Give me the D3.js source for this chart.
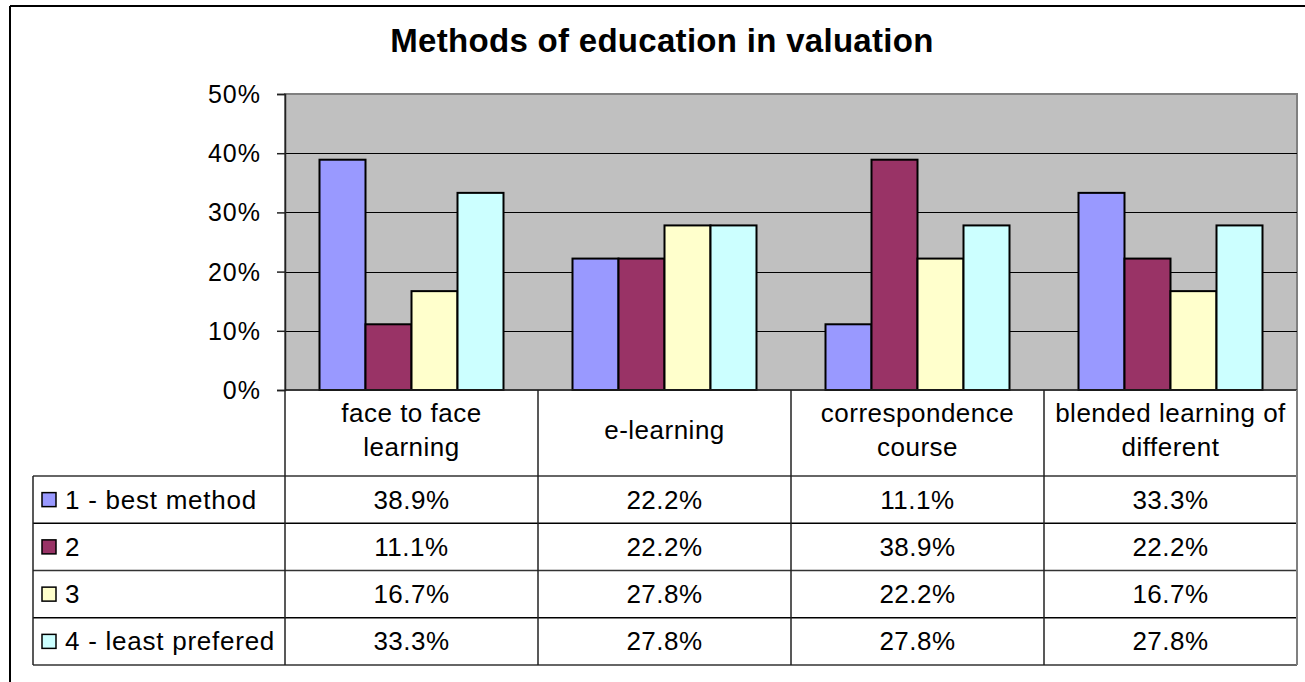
<!DOCTYPE html>
<html>
<head>
<meta charset="utf-8">
<script src="https://cdn.jsdelivr.net/npm/d3@7"></script>
<style>
  html, body { margin: 0; padding: 0; background: #fff; }
  svg { display: block; font-family: Arial, "Liberation Sans", sans-serif; }
</style>
</head>
<body>
<svg id="chart" width="1305" height="682"></svg>
<script>
// ---- data ----
const title = "Methods of education in valuation";
const categories = ["face to face learning", "e-learning", "correspondence course", "blended learning of different"];
const categoryLines = [["face to face", "learning"], ["e-learning"], ["correspondence", "course"], ["blended learning of", "different"]];
const seriesNames = ["1 - best method", "2", "3", "4 - least prefered"];
const seriesColors = ["#9999FF", "#993366", "#FFFFCC", "#CCFFFF"];
const best = [0.389, 0.222, 0.111, 0.333];
const second = [0.111, 0.222, 0.389, 0.222];
const third = [0.167, 0.278, 0.222, 0.167];
const least = [0.333, 0.278, 0.278, 0.278];
const seriesValues = [best, second, third, least];
const yTicks = [0, 0.1, 0.2, 0.3, 0.4, 0.5];

// ---- layout ----
const svg = d3.select("#chart");
const plotL = 285, plotR = 1297, plotT = 94, plotB = 390;
const tableL = 33, headerB = 476, rowH = 47.25;
const tableB = headerB + rowH * 4;

const x0 = d3.scaleBand().domain(categories).range([plotL, plotR]).padding(0);
const x1 = d3.scaleBand().domain(seriesNames).range([0, x0.bandwidth()]).paddingInner(0).paddingOuter(0.75);
const y = d3.scaleLinear().domain([0, 0.5]).range([plotB, plotT]);
const color = d3.scaleOrdinal().domain(seriesNames).range(seriesColors);
const pct1 = d3.format(".1%");

// outer frame (only top/left visible)
svg.append("line").attr("x1", 10).attr("x2", 1305).attr("y1", 6).attr("y2", 6).attr("stroke", "#000").attr("stroke-width", 2);
svg.append("line").attr("x1", 10).attr("x2", 10).attr("y1", 6).attr("y2", 682).attr("stroke", "#000").attr("stroke-width", 2);

// title
svg.append("text").attr("x", 662).attr("y", 52).attr("text-anchor", "middle")
  .attr("font-size", 33).attr("font-weight", "bold").attr("letter-spacing", 0.3).attr("fill", "#000")
  .text(title);

// plot area
svg.append("rect").attr("x", plotL).attr("y", plotT).attr("width", plotR - plotL).attr("height", plotB - plotT)
  .attr("fill", "#C0C0C0").attr("stroke", "#808080").attr("stroke-width", 2);

// gridlines
svg.append("g").selectAll("line").data(yTicks.filter(d => d > 0 && d < 0.5)).join("line")
  .attr("x1", plotL).attr("x2", plotR).attr("y1", d => Math.round(y(d)) + 0.5).attr("y2", d => Math.round(y(d)) + 0.5)
  .attr("stroke", "#000").attr("stroke-width", 1);

// y axis
const yAxis = d3.axisLeft(y).tickValues(yTicks).tickFormat(d3.format(".0%")).tickSize(8).tickPadding(16);
const gy = svg.append("g").attr("transform", `translate(${plotL},0)`).call(yAxis);
gy.select(".domain").attr("stroke", "#222").attr("stroke-width", 1.5);
gy.selectAll(".tick line").attr("stroke", "#222").attr("stroke-width", 1.5);
gy.selectAll(".tick text").attr("font-size", 25).attr("letter-spacing", 1).attr("fill", "#000")
  .attr("font-family", "Arial, 'Liberation Sans', sans-serif").attr("dy", "0.34em");

// bars
const rows = categories.map((c, i) => ({ cat: c, vals: seriesNames.map((s, j) => ({ s, v: seriesValues[j][i] })) }));
svg.append("g").selectAll("g").data(rows).join("g")
  .attr("transform", d => `translate(${x0(d.cat)},0)`)
  .selectAll("rect").data(d => d.vals).join("rect")
  .attr("x", d => x1(d.s)).attr("width", x1.bandwidth())
  .attr("y", d => y(d.v)).attr("height", d => y(0) - y(d.v))
  .attr("fill", d => color(d.s)).attr("stroke", "#000").attr("stroke-width", 2);

// x axis line
svg.append("line").attr("x1", plotL).attr("x2", plotR).attr("y1", plotB).attr("y2", plotB).attr("stroke", "#222").attr("stroke-width", 1.5);

// data table
const t = svg.append("g");
t.selectAll("line.h").data(d3.range(5)).join("line").attr("class", "h")
  .attr("x1", tableL).attr("x2", plotR)
  .attr("y1", i => headerB + i * rowH).attr("y2", i => headerB + i * rowH)
  .attr("stroke", i => i % 2 === 0 ? "#333" : "#000").attr("stroke-width", 1.5);
const bounds = categories.map(c => x0(c)).concat([plotR]);
t.selectAll("line.v").data(bounds).join("line").attr("class", "v")
  .attr("x1", d => d).attr("x2", d => d).attr("y1", plotB).attr("y2", tableB)
  .attr("stroke", (d, i) => i === bounds.length - 1 ? "#808080" : "#222").attr("stroke-width", (d, i) => i === bounds.length - 1 ? 2 : 1.5);
t.append("line").attr("x1", tableL).attr("x2", tableL).attr("y1", headerB).attr("y2", tableB).attr("stroke", "#222").attr("stroke-width", 1.5);

// header labels
const lineGap = 33.3;
categories.forEach((c, i) => {
  const lines = categoryLines[i];
  const cx = x0(c) + x0.bandwidth() / 2;
  const mid = (plotB + headerB) / 2;
  lines.forEach((ln, k) => {
    t.append("text").attr("x", cx).attr("y", mid + 6 + (k - (lines.length - 1) / 2) * lineGap).attr("text-anchor", "middle")
      .attr("font-size", 26).attr("letter-spacing", 0.5).attr("fill", "#000").text(ln);
  });
});

// rows
seriesNames.forEach((s, j) => {
  const rowMid = headerB + j * rowH + rowH / 2;
  t.append("rect").attr("x", 42).attr("y", rowMid - 7).attr("width", 14).attr("height", 14)
    .attr("fill", color(s)).attr("stroke", "#000").attr("stroke-width", 1.5);
  t.append("text").attr("x", 65).attr("y", rowMid + 9).attr("font-size", 26).attr("letter-spacing", 0.75)
    .attr("fill", "#000").text(s);
  categories.forEach((c, i) => {
    t.append("text").attr("x", x0(c) + x0.bandwidth() / 2).attr("y", rowMid + 9).attr("text-anchor", "middle")
      .attr("font-size", 26).attr("letter-spacing", 0.5).attr("fill", "#000").text(pct1(seriesValues[j][i]));
  });
});
</script>
</body>
</html>
